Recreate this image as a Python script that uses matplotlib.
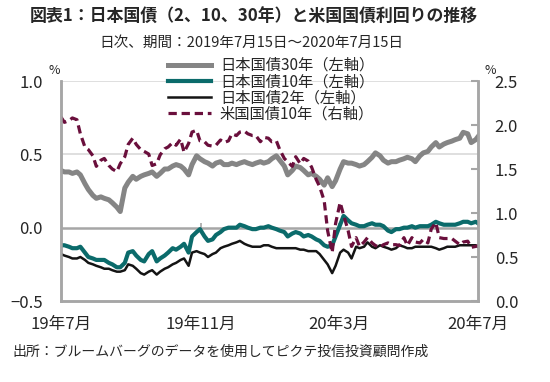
import matplotlib
matplotlib.use("Agg")
import matplotlib.pyplot as plt
import matplotlib.dates as mdates
import pandas as pd
import numpy as np

plt.rcParams['font.family'] = ['Noto Sans CJK JP', 'DejaVu Sans']

# Observation dates: Mondays and Thursdays, plus the final day
start, end = "2019-07-15", "2020-07-15"
dates = (pd.date_range(start, end, freq="W-MON")
         .union(pd.date_range(start, end, freq="W-THU"))
         .union(pd.DatetimeIndex([end])))

jgb30 = [0.39, 0.38, 0.38, 0.37, 0.38, 0.36, 0.30, 0.26, 0.22, 0.20,
         0.21, 0.20, 0.19, 0.17, 0.14, 0.11, 0.27, 0.31, 0.35, 0.33,
         0.35, 0.36, 0.37, 0.38, 0.35, 0.37, 0.40, 0.40, 0.42, 0.43,
         0.42, 0.40, 0.36, 0.43, 0.49, 0.47, 0.45, 0.44, 0.42, 0.44,
         0.45, 0.43, 0.43, 0.44, 0.43, 0.44, 0.45, 0.44, 0.43, 0.44,
         0.45, 0.44, 0.45, 0.47, 0.49, 0.46, 0.42, 0.36, 0.39, 0.42,
         0.41, 0.39, 0.36, 0.37, 0.35, 0.33, 0.29, 0.34, 0.28, 0.32,
         0.40, 0.45, 0.44, 0.44, 0.43, 0.42, 0.43, 0.45, 0.48, 0.51,
         0.49, 0.46, 0.44, 0.45, 0.45, 0.46, 0.47, 0.48, 0.47, 0.45,
         0.49, 0.51, 0.52, 0.55, 0.58, 0.55, 0.57, 0.58, 0.59, 0.60,
         0.61, 0.65, 0.64, 0.58, 0.60, 0.62]

jgb10 = [-0.12, -0.12, -0.13, -0.14, -0.14, -0.13, -0.17, -0.20, -0.21, -0.22,
         -0.22, -0.22, -0.24, -0.25, -0.27, -0.27, -0.24, -0.17, -0.16, -0.19,
         -0.22, -0.23, -0.18, -0.16, -0.23, -0.21, -0.19, -0.17, -0.14, -0.15,
         -0.13, -0.11, -0.17, -0.06, -0.03, -0.01, -0.06, -0.09, -0.08, -0.05,
         -0.03, -0.01, 0.00, 0.00, 0.00, 0.02, 0.01, 0.00, -0.01, -0.01,
         0.00, 0.00, 0.01, 0.00, -0.01, -0.02, -0.03, -0.06, -0.04, -0.03,
         -0.04, -0.06, -0.05, -0.06, -0.08, -0.09, -0.12, -0.13, -0.12, -0.06,
         0.02, 0.08, 0.05, 0.03, 0.02, 0.01, 0.01, 0.02, 0.03, 0.02,
         0.02, 0.01, -0.02, -0.03, -0.01, -0.01, 0.00, 0.00, 0.01, 0.00,
         0.01, 0.01, 0.01, 0.02, 0.04, 0.03, 0.02, 0.02, 0.02, 0.02,
         0.03, 0.04, 0.04, 0.03, 0.04, 0.03]

jgb2 = [-0.18, -0.19, -0.20, -0.21, -0.21, -0.20, -0.22, -0.24, -0.25, -0.26,
        -0.27, -0.28, -0.28, -0.29, -0.30, -0.30, -0.29, -0.25, -0.26, -0.28,
        -0.31, -0.32, -0.30, -0.29, -0.32, -0.30, -0.28, -0.27, -0.25, -0.24,
        -0.22, -0.21, -0.26, -0.17, -0.16, -0.17, -0.18, -0.20, -0.18, -0.17,
        -0.14, -0.13, -0.12, -0.11, -0.10, -0.09, -0.11, -0.12, -0.13, -0.13,
        -0.13, -0.12, -0.12, -0.13, -0.14, -0.14, -0.14, -0.14, -0.14, -0.14,
        -0.15, -0.15, -0.16, -0.16, -0.16, -0.18, -0.22, -0.25, -0.31, -0.26,
        -0.17, -0.15, -0.17, -0.21, -0.13, -0.14, -0.13, -0.10, -0.13, -0.14,
        -0.12, -0.13, -0.14, -0.15, -0.14, -0.12, -0.13, -0.14, -0.14, -0.13,
        -0.13, -0.13, -0.13, -0.13, -0.14, -0.15, -0.14, -0.13, -0.13, -0.13,
        -0.12, -0.12, -0.12, -0.12, -0.12, -0.13]

ust10 = [2.09, 2.03, 2.05, 2.08, 2.06, 1.90, 1.75, 1.72, 1.65, 1.53,
         1.60, 1.62, 1.54, 1.50, 1.47, 1.56, 1.64, 1.78, 1.85, 1.78,
         1.72, 1.70, 1.67, 1.54, 1.56, 1.66, 1.73, 1.75, 1.80, 1.77,
         1.84, 1.69, 1.79, 1.92, 1.94, 1.82, 1.81, 1.77, 1.76, 1.77,
         1.83, 1.80, 1.82, 1.90, 1.88, 1.92, 1.93, 1.90, 1.88, 1.88,
         1.81, 1.86, 1.85, 1.81, 1.82, 1.72, 1.62, 1.58, 1.53, 1.64,
         1.56, 1.62, 1.59, 1.52, 1.38, 1.30, 1.14, 0.80, 0.55, 0.88,
         1.12, 0.98, 0.80, 0.62, 0.72, 0.62, 0.67, 0.72, 0.66, 0.63,
         0.61, 0.64, 0.66, 0.64, 0.64, 0.63, 0.72, 0.63, 0.72, 0.67,
         0.66, 0.70, 0.66, 0.82, 0.89, 0.72, 0.71, 0.71, 0.71, 0.68,
         0.64, 0.67, 0.68, 0.61, 0.62, 0.63]

series_labels = ["日本国債30年（左軸）", "日本国債10年（左軸）",
                 "日本国債2年（左軸）", "米国国債10年（右軸）"]
left_ticks = [-0.5, 0.0, 0.5, 1.0]
right_ticks = [0.0, 0.5, 1.0, 1.5, 2.0, 2.5]
xtick_dates = ["2019-07-15", "2019-11-15", "2020-03-15", "2020-07-15"]
xtick_labels = ["19年7月", "19年11月", "20年3月", "20年7月"]

title = "図表1：日本国債（2、10、30年）と米国国債利回りの推移"
subtitle = "日次、期間：2019年7月15日～2020年7月15日"
source = "出所：ブルームバーグのデータを使用してピクテ投信投資顧問作成"

c30, c10, c2, cus = "#858585", "#0b6b6b", "#141414", "#6a0f3c"
axis_grey = "#a6a6a6"
text_col = "#262626"

fig = plt.figure(figsize=(5.5, 3.82), dpi=100)
ax = fig.add_axes([61/550, 1-301/382, (478-61)/550, (301-81)/382])
ax2 = ax.twinx()

ax.set_ylim(-0.5, 1.0)
ax2.set_ylim(0.0, 2.5)
xd = pd.to_datetime(xtick_dates)
ax.set_xlim(pd.Timestamp(start), pd.Timestamp(end))

for y in [0.5, 1.0]:
    ax.axhline(y, color="#d9d9d9", lw=1.2, zorder=0)
ax.axhline(0.0, color=axis_grey, lw=1.8, zorder=1)
ax.vlines(xd[1:3], 0.0, 0.035, color=axis_grey, lw=1.2, zorder=1)

l30, = ax.plot(dates, jgb30, color=c30, lw=3.6, zorder=3, solid_joinstyle="round")
l10, = ax.plot(dates, jgb10, color=c10, lw=3.0, zorder=4, solid_joinstyle="round")
l2, = ax.plot(dates, jgb2, color=c2, lw=1.8, zorder=5, solid_joinstyle="round")
lus, = ax2.plot(dates, ust10, color=cus, lw=2.3, dashes=(2.6, 1.5))

ax.set_yticks(left_ticks)
ax.set_yticklabels([f"{v:.1f}".replace("-", "\u2212") for v in left_ticks])
ax2.set_yticks(right_ticks)
ax2.set_yticklabels([f"{v:.1f}" for v in right_ticks])
ax.set_xticks(xd)
ax.set_xticklabels(xtick_labels)

for a in (ax, ax2):
    a.spines["top"].set_visible(False)
    for s in ("left", "right", "bottom"):
        a.spines[s].set_color(axis_grey)
        a.spines[s].set_linewidth(1.8)
ax.tick_params(axis="y", length=0, pad=13, labelsize=12, labelcolor=text_col)
ax2.tick_params(axis="y", direction="in", length=5, width=1.5, color=axis_grey,
                pad=12, labelsize=12, labelcolor=text_col)
ax.tick_params(axis="x", length=0, pad=11, labelsize=12, labelcolor=text_col)

fig.text(0.462, 0.955, title, ha="center", va="center", fontsize=12.2,
         fontweight="bold", color=text_col)
fig.text(0.457, 0.889, subtitle, ha="center", va="center", fontsize=10.5,
         color=text_col)
fig.text(54/550, 1-70/382, "%", ha="center", va="center", fontsize=9, color=text_col)
fig.text(490/550, 1-70/382, "%", ha="center", va="center", fontsize=9, color=text_col)
fig.text(12/550, 1-352/382, source, ha="left", va="center", fontsize=10,
         color=text_col)

leg = fig.legend([l30, l10, l2, lus], series_labels, loc="upper left",
                 bbox_to_anchor=(168/550, 1-57/382), frameon=False,
                 fontsize=11, handlelength=2.8, handletextpad=0.6,
                 labelspacing=-0.05, borderpad=0, borderaxespad=0)
for t in leg.get_texts():
    t.set_color(text_col)

fig.savefig("out.png", dpi=100)
